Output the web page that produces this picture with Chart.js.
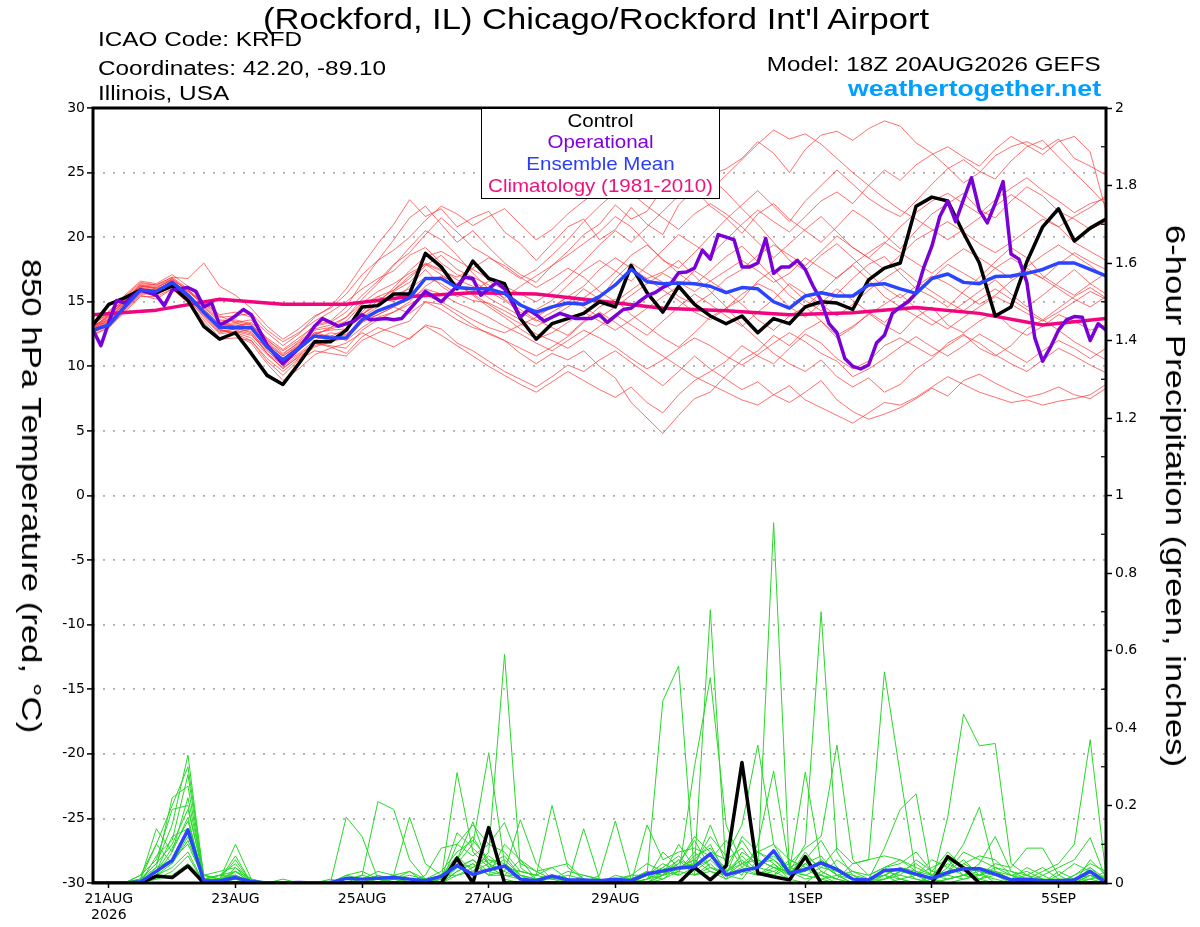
<!DOCTYPE html>
<html>
<head>
<meta charset="utf-8">
<script src="https://cdn.jsdelivr.net/npm/chart.js@4.4.1/dist/chart.umd.min.js"></script>
<style>
  html, body { margin:0; padding:0; background:#fff; overflow:hidden; }
  #wrap { position:relative; width:1200px; height:927px; background:#fff; }
  canvas { position:absolute; left:0; top:0; }
  .h { position:absolute; font-family:'Liberation Sans', Arial, sans-serif; line-height:1; white-space:nowrap; color:#000; }
  #title { left:-4px; width:1200px; text-align:center; top:4.8px; font-size:29px; transform:scaleX(1.193); transform-origin:50% 0; }
  .hl { left:98px; font-size:20px; transform:scaleX(1.216); transform-origin:0 0; }
  .hr { right:99px; transform-origin:100% 0; }
  #legend { position:absolute; left:480.5px; top:108px; width:239px; height:91px; box-sizing:border-box; border:1.5px solid #000; background:#fff; padding-top:0.5px; }
  #legend div { font-family:'Liberation Sans', Arial, sans-serif; font-size:18.5px; line-height:21.7px; text-align:center; white-space:nowrap; transform:scaleX(1.11); transform-origin:50% 0; }
  .axt { position:absolute; font-family:'Liberation Sans', Arial, sans-serif; font-size:28px; line-height:1; white-space:nowrap; color:#000; transform:translate(-50%,-50%) rotate(90deg) scaleX(1.24); }
</style>
</head>
<body>
<div id="wrap">
  <canvas id="c" width="1200" height="927"></canvas>
  <div class="h" id="title">(Rockford, IL) Chicago/Rockford Int'l Airport</div>
  <div class="h hl" style="top:29.1px">ICAO Code: KRFD</div>
  <div class="h hl" style="top:58.1px">Coordinates: 42.20, -89.10</div>
  <div class="h hl" style="top:83.1px">Illinois, USA</div>
  <div class="h hr" style="top:53.8px;font-size:20px;transform:scaleX(1.211)">Model: 18Z 20AUG2026 GEFS</div>
  <div class="h hr" style="top:78.1px;font-size:22px;font-weight:bold;color:#00a0ff;transform:scaleX(1.21)">weathertogether.net</div>
  <div id="legend">
    <div style="color:#000">Control</div>
    <div style="color:#8000e0">Operational</div>
    <div style="color:#2a3cff">Ensemble Mean</div>
    <div style="color:#f0107f">Climatology (1981-2010)</div>
  </div>
  <div class="axt" style="left:31px;top:495.5px">850 hPa Temperature (red, °C)</div>
  <div class="axt" style="left:1175px;top:495.5px">6-hour Precipitation (green, inches)</div>
</div>
<script>
// ---------- axis / tick definitions (x = 6-hour step index from 18Z 20AUG2026) ----------
const xTickIndex = [1, 9, 17, 25, 33, 45, 53, 61];
const xTickLabels = [['21AUG', '2026'], '23AUG', '25AUG', '27AUG', '29AUG', '1SEP', '3SEP', '5SEP'];
const precipMinorTicks = [0.1, 0.3, 0.5, 0.7, 0.9, 1.1, 1.3, 1.5, 1.7, 1.9];

// ---------- 850 hPa temperature (°C), 6-hourly ----------
const controlTemp = [13.2,14.8,15.3,15.9,15.7,16.2,15.1,13.1,12.1,12.6,
  11.0,9.3,8.6,10.2,11.9,11.9,12.8,14.6,14.7,15.6,
  15.6,18.75,17.7,16.0,18.15,16.8,16.4,13.7,12.1,13.3,
  13.7,14.1,15.0,14.6,17.8,15.7,14.2,16.2,14.8,13.9,
  13.3,13.9,12.6,13.7,13.3,14.6,15.0,14.9,14.4,16.7,
  17.6,18.0,22.4,23.1,22.8,20.3,18.0,13.9,14.6,18.1,
  20.8,22.2,19.7,20.7,21.4];

const meanTemp = [12.8,13.2,14.6,15.9,15.8,16.5,15.5,14.2,13.0,13.0,
  13.0,11.5,10.5,11.4,12.35,12.2,12.2,13.6,14.3,14.75,
  15.3,16.8,16.8,16.1,16.0,16.0,15.65,14.75,14.2,14.6,
  14.9,14.8,15.4,16.3,17.5,16.55,16.4,16.45,16.4,16.2,
  15.7,16.1,16.0,15.0,14.5,15.45,15.7,15.45,15.45,16.3,
  16.4,16.0,15.65,16.8,17.15,16.5,16.4,16.95,17.0,17.2,
  17.5,18.0,18.0,17.5,17.0];

// operational run, 3-hourly
const operationalTemp = [12.8,11.6,13.4,15.1,14.9,15.4,15.9,15.7,15.5,14.7,
  15.9,16.0,16.1,15.8,14.6,14.9,13.2,13.5,13.9,14.4,
  14.0,12.8,11.65,10.9,10.2,10.8,11.4,12.2,13.1,13.7,
  13.4,13.1,13.3,13.5,14.0,13.6,13.65,13.7,13.6,13.7,
  14.4,15.1,15.8,15.4,15.0,15.6,16.2,16.9,16.8,15.5,
  16.0,16.5,16.0,14.9,13.8,14.4,14.0,13.5,13.8,14.1,
  13.9,13.7,13.7,13.7,14.0,13.4,13.9,14.4,14.5,15.0,
  15.45,15.7,16.1,16.4,17.25,17.3,17.6,19.0,18.3,20.2,
  20.0,19.8,17.7,17.7,18.0,19.9,17.2,17.7,17.7,18.2,
  17.5,16.2,15.1,13.3,12.6,10.6,10.0,9.8,10.1,11.8,
  12.4,14.1,14.6,15.0,15.65,17.7,19.3,21.6,22.8,21.2,
  22.9,24.6,22.1,21.1,22.6,24.3,18.7,18.3,16.5,12.2,
  10.4,11.5,12.8,13.6,13.85,13.8,12.0,13.3,12.8];

// climatology, daily (every 4th 6-hour step)
const climatologyTemp = [14.0,14.35,15.2,14.8,14.8,15.4,15.7,15.6,15.05,14.5,14.3,14.0,14.15,14.55,14.1,13.2,13.7];

// ensemble members, 6-hourly
const memberTemps = [
  [13.0,14.0,15.2,16.3,16.0,16.8,15.9,14.8,13.6,13.5,13.2,12.0,11.2,12.0, 13.2,13.5,14.6,16.5,18.2,19.8,21.5,22.4,21.0,19.6,20.5,19.2,18.0,17.1,16.5, 17.8,18.9,20.2,21.0,22.5,21.4,22.0,23.8,24.9,25.6,24.8,25.3, 26.1,27.4,26.5,25.0,26.8,27.9,28.2,27.5,28.4,29.0,28.6,27.3, 26.5,25.4,24.2,25.0,26.3,27.0,27.4,26.8,27.6,26.1,25.5,24.8],
  [12.5,13.0,14.3,15.5,15.2,16.0,15.0,13.6,12.2,12.5,12.0,10.4,9.3,10.5, 11.2,11.0,10.8,12.0,12.6,13.1,13.5,15.0,14.8,14.0,13.2,12.5,12.0,11.0,10.2, 11.0,10.5,11.2,10.0,9.1,7.2,6.0,4.8,6.2,7.5,8.0,9.3, 10.5,11.2,12.4,11.6,12.8,13.5,12.2,13.0,14.1,13.2,12.5,13.8, 14.6,13.2,12.6,13.5,14.2,13.0,12.4,13.1,14.0,13.5,12.8,13.2],
  [13.2,13.6,14.9,16.1,15.9,16.6,15.7,14.3,13.1,12.8,12.5,11.0,9.8,10.8, 11.8,11.5,11.0,12.3,13.0,12.6,12.1,13.2,12.9,11.8,11.2,10.4,9.6,9.0,8.4, 9.2,10.1,9.6,10.5,11.2,10.3,9.4,8.5,9.6,10.8,9.8,9.0, 8.2,8.8,7.8,7.2,8.0,8.9,7.4,6.5,5.9,6.3,6.8,7.5, 8.3,7.7,8.9,9.4,8.7,8.1,7.6,7.9,8.4,7.8,7.5,8.3],
  [13.4,14.2,15.5,16.6,16.4,17.1,16.2,15.0,14.0,14.2,13.8,12.6,11.6,12.5, 13.8,14.6,16.0,17.8,19.5,21.0,22.9,21.6,22.2,20.8,21.5,22.0,20.4,19.5,18.2, 19.5,20.8,21.4,19.8,20.6,22.3,21.0,20.2,22.5,23.7,22.4,21.5, 20.3,21.8,22.6,21.4,20.5,19.6,20.8,22.1,21.3,20.2,19.1,20.5, 21.8,22.6,23.4,22.1,21.5,22.8,23.9,23.2,22.0,21.4,20.6,21.2],
  [12.9,13.4,14.8,16.0,15.6,16.3,15.2,13.8,12.5,12.7,12.4,11.2,10.2,11.0, 12.0,12.6,12.4,13.8,14.6,15.8,16.5,17.8,18.6,17.5,16.9,16.3,15.2,14.4,13.6, 13.0,12.4,13.5,14.6,15.2,14.0,13.1,12.2,11.5,12.6,13.8,14.5, 15.2,16.6,17.5,16.2,15.1,14.3,15.6,16.8,17.9,18.5,17.2,16.0, 15.4,14.6,15.8,16.9,18.1,19.2,18.4,17.0,16.2,15.5,16.4,17.2],
  [13.1,13.9,15.0,16.2,16.1,16.7,15.6,14.5,13.2,13.4,13.6,12.1,11.0,11.8, 12.6,12.3,12.9,14.2,15.4,15.0,16.2,17.5,16.2,15.4,15.8,16.6,15.9,14.8,14.0, 14.5,15.4,16.2,17.5,18.4,17.6,16.8,17.3,18.2,17.0,15.8,14.6, 13.2,12.1,11.0,10.2,9.6,10.5,9.2,8.4,9.1,8.0,8.6,9.8, 10.6,11.8,12.5,11.4,10.8,11.6,12.9,13.6,12.8,11.9,11.2,10.5],
  [12.6,13.3,14.5,15.7,15.9,16.4,15.3,14.0,12.8,12.6,12.9,11.6,10.4,11.3, 12.4,13.0,13.8,15.2,16.4,17.8,19.2,20.5,19.8,18.6,17.2,16.0,15.3,16.2,17.0, 17.8,18.6,19.5,20.4,21.6,20.8,19.5,18.2,17.6,18.8,20.1,21.4, 22.5,23.6,22.4,21.2,22.8,24.0,25.2,24.1,23.0,22.2,21.6,22.8, 24.1,25.3,26.0,25.1,24.5,25.9,27.0,27.5,26.2,25.0,23.8,22.5],
  [13.0,13.5,14.7,15.8,15.5,16.2,15.4,14.1,12.9,12.4,11.8,10.2,8.9,9.8, 10.9,11.4,11.8,12.6,12.0,11.5,12.2,13.1,12.4,11.6,10.8,10.0,9.3,8.6,8.0, 8.8,9.6,8.9,8.2,7.6,8.4,7.2,6.4,7.8,8.9,9.6,10.4, 11.6,10.8,10.2,11.4,12.5,11.8,10.6,9.8,10.4,11.6,12.2,11.5, 10.8,11.6,12.4,11.8,10.9,10.2,9.6,10.5,11.4,10.8,10.1,9.5],
  [12.7,13.1,14.4,15.6,15.6,16.2,15.8,14.9,13.8,13.9,14.1,12.8,11.9,12.6, 13.5,14.2,15.0,16.0,16.8,17.4,18.6,19.2,18.0,17.1,16.6,15.8,15.1,14.2,13.5, 14.2,14.9,16.0,15.2,16.8,18.0,17.2,16.5,15.4,14.8,15.6,16.8, 17.5,18.6,19.4,18.6,17.8,18.9,20.1,19.2,18.4,17.5,18.6,19.8, 20.5,21.2,20.4,19.5,18.8,19.6,20.5,21.4,20.8,19.6,18.9,18.2],
  [13.3,14.0,15.3,16.4,16.3,16.9,16.0,14.6,13.4,13.0,12.6,11.3,10.0,10.9, 11.8,11.6,11.4,12.8,13.6,14.2,15.0,16.2,17.0,16.4,15.5,14.6,13.8,12.9,12.1, 12.6,13.4,14.2,13.5,12.8,13.6,14.5,15.4,16.2,17.4,16.6,15.8, 14.8,13.6,12.8,13.9,14.6,13.5,12.4,13.1,14.0,14.8,15.6,14.5, 13.6,12.9,13.8,14.6,15.4,14.8,14.1,13.5,14.2,15.0,15.8,15.2],
  [12.9,13.7,15.0,16.1,15.7,16.5,15.5,14.4,13.3,13.1,13.4,12.2,11.3,12.2, 13.1,13.4,14.2,15.5,16.6,17.9,18.8,20.2,21.5,20.4,19.2,18.5,17.6,16.8,17.5, 18.6,19.8,21.2,22.4,23.5,24.6,25.4,24.2,25.0,25.8,24.6,23.5, 22.2,21.0,19.6,18.2,17.4,18.6,19.5,18.4,17.2,16.1,15.3,16.2, 17.0,16.4,15.6,14.8,15.5,16.6,17.4,16.8,16.0,15.2,14.6,15.4],
  [13.2,13.4,14.6,15.9,15.8,16.6,15.4,14.0,12.7,12.9,12.7,11.0,10.1,11.2, 12.3,12.0,12.5,13.5,14.0,14.6,15.2,16.0,15.6,14.9,14.4,13.8,13.1,12.5,11.8, 11.2,12.0,12.8,12.2,11.5,10.6,9.8,10.5,11.4,12.2,11.6,10.8, 10.1,10.9,11.8,12.6,11.9,11.0,10.4,9.2,9.8,10.6,11.5,12.3, 11.5,10.8,11.6,12.5,11.8,11.0,10.3,11.2,12.0,11.4,10.6,11.4],
  [12.8,13.6,14.9,16.0,15.9,16.6,15.6,14.2,13.1,13.3,13.2,11.8,10.8,11.6, 12.5,12.9,13.2,14.0,15.1,15.9,16.8,18.0,17.5,16.7,16.2,15.3,14.6,13.9,14.4, 15.1,16.3,17.4,18.2,17.4,16.6,17.8,19.0,20.2,19.4,18.6,19.8, 21.0,22.1,21.2,20.4,21.6,22.8,23.5,22.6,24.0,25.2,24.4,25.6, 26.4,27.0,26.2,25.5,26.8,27.8,27.1,26.4,27.4,27.8,26.6,22.0],
  [13.0,13.8,15.1,16.3,16.2,16.8,15.8,14.7,13.5,13.6,13.3,11.9,10.9,11.9, 12.9,13.2,13.8,14.9,15.8,16.4,17.2,17.9,17.4,16.9,17.6,18.4,17.8,16.9,16.1, 16.8,17.6,16.9,15.8,15.0,15.9,16.8,15.9,15.1,14.2,13.6,14.5, 15.6,16.4,15.8,14.6,13.8,14.9,16.0,15.1,14.2,13.4,14.6,15.8, 16.8,17.9,17.2,16.5,17.6,18.4,17.6,16.8,17.9,18.8,18.1,17.5],
  [12.4,13.0,14.2,15.4,15.4,16.0,14.9,13.4,12.1,12.2,12.0,10.6,9.6,10.6, 11.5,11.9,12.2,13.4,14.0,14.6,14.1,15.0,14.4,13.6,13.0,12.6,12.0,11.4,10.8, 11.5,12.3,13.4,14.2,13.4,12.5,11.6,10.8,10.0,9.2,8.6,8.0, 7.4,7.0,7.8,8.5,7.4,6.8,6.2,5.6,6.4,7.2,7.0,7.6, 8.4,9.2,8.6,8.0,7.6,7.2,7.4,7.0,7.3,7.5,7.8,8.6],
  [13.1,14.3,15.4,16.5,16.3,16.9,16.8,18.0,16.2,15.5,14.5,13.1,12.1,12.9, 13.9,14.5,15.6,17.1,18.2,19.0,20.0,21.3,22.4,21.8,20.9,21.6,22.2,21.0,19.8, 20.6,21.8,22.8,23.6,24.4,23.4,22.4,21.5,20.6,21.8,22.6,21.8, 20.8,19.6,18.4,19.5,20.6,21.6,20.4,19.2,18.4,19.5,20.8,21.9, 22.8,23.4,22.6,21.8,22.9,23.8,24.6,23.6,22.8,21.9,22.6,23.0],
  [12.6,13.2,14.4,15.6,15.7,16.3,15.2,13.9,12.6,12.9,12.9,11.4,10.6,11.6, 12.6,12.8,12.9,14.0,14.8,15.5,16.0,16.9,16.4,15.6,15.1,14.9,14.3,13.6,13.1, 13.8,14.6,15.3,16.2,17.3,18.6,19.4,18.3,17.2,16.3,17.4,18.5, 19.3,18.1,16.8,15.5,14.6,15.7,16.9,17.8,16.7,15.4,14.6,13.9, 13.2,14.0,14.9,15.8,16.7,15.6,14.6,15.5,16.5,17.5,16.4,15.6],
  [13.3,14.1,15.2,16.2,16.0,16.4,15.3,14.1,12.8,12.6,12.2,10.9,9.9,10.7, 11.6,12.1,12.8,14.0,14.9,16.1,17.4,18.5,18.9,18.2,17.5,16.8,16.2,15.6,15.0, 15.8,16.9,18.1,19.4,20.5,19.6,20.8,22.0,23.2,24.5,23.6,24.8, 26.0,27.2,28.3,27.6,28.0,27.2,26.1,25.0,24.0,23.0,22.1,21.4, 20.6,19.8,20.6,21.5,22.4,23.3,22.5,21.6,20.8,21.6,22.3,23.2],
  [12.7,13.4,14.8,16.0,15.8,16.5,15.6,14.3,13.0,13.2,13.0,11.5,10.6,11.5, 12.4,12.4,12.0,13.0,13.8,14.2,14.8,15.5,15.0,14.3,13.6,13.0,12.6,13.2,13.8, 14.6,15.4,14.6,13.8,14.6,15.5,16.4,17.2,16.5,15.8,16.6,17.4, 18.2,17.4,16.5,17.2,18.4,17.6,16.8,17.9,18.8,19.6,18.8,18.0, 17.2,18.2,19.1,18.4,17.6,16.8,17.7,18.6,19.4,18.6,17.8,16.9],
  [13.0,13.9,15.1,16.2,16.1,16.7,15.9,15.0,13.9,13.4,12.9,11.7,10.8,11.7, 12.8,13.0,13.5,14.8,15.4,15.9,17.0,17.9,17.1,16.3,15.6,14.8,14.0,13.3,12.5, 12.0,11.4,12.2,13.1,14.0,13.2,12.4,13.5,14.6,15.6,14.8,13.9, 13.1,14.2,15.2,16.4,15.6,14.8,13.9,14.8,15.9,16.8,17.6,16.6, 15.8,15.0,14.3,15.2,16.0,15.2,14.4,13.6,14.5,15.4,16.1,15.3]
];

// ---------- 6-hour precipitation (inches) ----------
const controlPrecip = [0,0,0,0,0.018,0.014,0.044,0,0,0, 0,0,0,0,0,0,0,0,0,0, 0,0,0,0.064,0,0.143,0,0,0,0,
  0,0,0,0,0,0,0,0,0.04,0.008, 0.044,0.311,0.025,0.016,0.008,0.068,0,0,0,0, 0,0,0,0,0.068,0.039,0,0,0,0, 0,0,0,0,0];

const meanPrecip = [0,0,0,0.003,0.03,0.058,0.137,0.006,0.005,0.014, 0.004,0,0,0.001,0,0.001,0.012,0.01,0.012,0.014,
  0.01,0.006,0.017,0.045,0.022,0.034,0.044,0.01,0.006,0.018, 0.008,0.008,0.006,0.01,0.006,0.023,0.031,0.039,0.042,0.075,
  0.021,0.032,0.04,0.083,0.025,0.035,0.052,0.035,0.01,0.008, 0.032,0.035,0.023,0.012,0.027,0.037,0.037,0.023,0.008,0.01,
  0.006,0.006,0.008,0.03,0.001];

const memberPrecip = [
  [0,0,0,0.01,0.05,0.15,0.33,0.01,0.02,0.05,0,0,0, 0,0,0,0.01,0.02,0.21,0.19,0.06,0.01,0.02,0.07,0.03,0.08, 0.59,0.04,0.01,0,0,0.01,0,0,0.01,0.03,0.02,0.06,0.02, 0.05,0.01,0.03,0.04,0.93,0.03,0.01,0.02,0,0,0.01,0.02,0, 0,0.01,0.02,0.05,0.03,0,0,0.01,0.03,0.05,0.1,0.37,0.02],
  [0,0,0,0.02,0.1,0.2,0.30,0.02,0.01,0.1,0.01,0,0, 0,0,0.01,0,0,0.02,0.01,0,0,0.01,0.285,0.08,0.04, 0.02,0.01,0,0,0,0,0,0,0,0.02,0.05,0.03,0.08, 0.04,0.02,0.01,0.06,0.04,0.03,0.1,0.70,0.08,0.02,0,0.01,0.03, 0.02,0,0.17,0.436,0.354,0.36,0.05,0.02,0,0,0.01,0.03,0],
  [0,0,0,0,0.07,0.11,0.28,0.01,0.01,0.07,0,0,0, 0,0,0,0.17,0.12,0.01,0,0,0,0,0.05,0.1,0.336, 0.05,0.02,0.01,0,0.01,0,0,0,0,0,0.03,0.02,0.04, 0.705,0.03,0.06,0.02,0.05,0.01,0,0.03,0.01,0.05,0.06,0.545,0.28, 0.02,0,0.01,0.02,0.01,0,0,0,0.01,0,0,0.02,0],
  [0,0,0,0.01,0.04,0.22,0.25,0.01,0,0.04,0,0,0.01, 0,0,0,0.02,0.01,0,0.01,0.02,0.01,0,0.04,0.06,0.02, 0.03,0.163,0.05,0.01,0,0,0,0,0.02,0.02,0.47,0.56,0.02, 0.03,0.01,0.08,0.05,0.06,0.02,0.08,0.03,0.01,0,0,0.04,0.06, 0.03,0.01,0.04,0.1,0.196,0.03,0.01,0,0,0.01,0,0.02,0.01],
  [0,0,0,0,0.02,0.08,0.22,0.02,0.01,0.03,0.01,0,0, 0,0,0,0,0.01,0.01,0.02,0.17,0.05,0.02,0.02,0.04,0.07, 0.04,0.03,0.02,0.2,0.04,0.01,0,0,0,0.01,0.04,0.02,0.30, 0.53,0.15,0.05,0.08,0.1,0.06,0.04,0.01,0,0,0.01,0.09,0.19, 0.23,0.01,0,0.01,0.02,0.03,0.01,0.04,0.02,0,0,0.01,0.03],
  [0,0,0,0.02,0.06,0.19,0.20,0.01,0.02,0.03,0,0,0, 0,0,0,0,0,0.01,0,0,0,0,0.03,0.05,0.02, 0.1,0.06,0.01,0.02,0,0.14,0.01,0,0,0.01,0.08,0.04,0.05, 0.12,0.07,0.15,0.356,0.1,0.03,0.05,0.07,0.02,0.01,0,0.02,0.04, 0.01,0,0.03,0.06,0.02,0.05,0.04,0.09,0.09,0.02,0,0.04,0],
  [0,0,0,0.01,0.14,0.08,0.17,0,0.01,0.02,0,0,0, 0,0,0,0,0.02,0.01,0,0,0.01,0.01,0.06,0.12,0.05, 0.07,0.02,0,0,0,0,0.02,0.16,0.01,0,0.02,0.1,0.04, 0.15,0.05,0.02,0.1,0.289,0.04,0.06,0.11,0.04,0.01,0,0.03,0.02, 0.06,0.03,0.08,0.04,0.01,0.02,0,0,0.02,0.04,0.06,0.117,0.01],
  [0,0,0,0,0.03,0.12,0.14,0.01,0,0.02,0,0,0, 0,0,0,0,0,0,0,0,0.02,0.09,0.1,0.07,0.1, 0.08,0.03,0.02,0.04,0.05,0.01,0,0,0,0.15,0.06,0.08,0.09, 0.07,0.04,0.11,0.05,0.07,0.03,0.286,0.05,0.02,0,0,0.01,0.03, 0.02,0.06,0.04,0.02,0.05,0.12,0.03,0.01,0,0,0.02,0.05,0.03],
  [0,0,0,0.01,0.10,0.05,0.12,0.02,0.03,0.04,0.01,0,0, 0,0,0,0,0,0,0.01,0.03,0,0.01,0.13,0.09,0.05, 0.03,0.01,0,0,0,0,0,0,0.01,0.03,0.02,0.05,0.12, 0.08,0.06,0.09,0.04,0.03,0.05,0.09,0.12,0.356,0.06,0.02,0.04,0.01, 0,0.02,0.05,0.03,0.02,0.01,0,0,0.01,0,0.02,0.04,0.01],
  [0,0,0,0,0.04,0.06,0.10,0.01,0.02,0.01,0,0,0, 0,0,0,0,0.01,0.03,0.02,0.01,0.01,0,0.1,0.15,0.1, 0.156,0.05,0.03,0.04,0.01,0,0,0,0,0,0.01,0.04,0.06, 0.1,0.02,0.12,0.08,0.05,0.02,0.07,0.04,0.09,0.05,0.06,0.07,0.06, 0.04,0.02,0.01,0.02,0.04,0.03,0.01,0.02,0.04,0.01,0,0.01,0.02],
  [0,0,0,0,0.02,0.04,0.08,0,0.01,0.01,0,0,0, 0,0,0,0,0,0,0,0.01,0,0.02,0.06,0.158,0.04, 0.06,0.02,0.01,0,0,0,0,0.01,0.02,0.05,0.03,0.06,0.04, 0.06,0.11,0.04,0.02,0.03,0.01,0.05,0.02,0.06,0.03,0.02,0.04,0.05, 0.08,0.03,0.02,0.05,0.07,0.06,0.02,0,0,0.03,0.01,0.02,0],
  [0,0,0,0.01,0.01,0.02,0.05,0.01,0.02,0.02,0,0,0, 0,0,0,0,0,0,0,0,0,0.01,0.04,0.06,0.03, 0.02,0.06,0.03,0.01,0.02,0.01,0,0,0.01,0.02,0.01,0.03,0.07, 0.09,0.03,0.05,0.06,0.04,0.02,0.03,0.05,0.02,0.03,0.01,0.01,0.03, 0.05,0.02,0.06,0.04,0.03,0.02,0.01,0.01,0,0.02,0.05,0.03,0.01],
  [0,0,0,0,0.03,0.09,0.16,0.01,0,0.01,0,0,0, 0,0,0,0,0,0.02,0,0,0.01,0.03,0.08,0.11,0.06, 0.04,0.03,0.02,0.01,0.01,0,0,0.02,0.01,0.02,0.04,0.07,0.03, 0.06,0.02,0.04,0.08,0.06,0.03,0.02,0.04,0.03,0.02,0.01,0.02,0.04, 0.03,0.02,0.03,0.08,0.06,0.04,0.03,0.02,0.01,0.01,0,0.06,0.02],
  [0,0,0,0.01,0.05,0.1,0.19,0.02,0.01,0.06,0,0,0, 0,0,0,0,0.01,0,0.02,0.03,0.01,0,0.05,0.04,0.06, 0.05,0.01,0,0,0,0.02,0.01,0,0,0.01,0.03,0.05,0.11, 0.04,0.03,0.07,0.03,0.02,0.06,0.04,0.02,0.01,0,0.01,0.02,0.01, 0,0.01,0.02,0.01,0.02,0.04,0.02,0.01,0,0,0.01,0.03,0.01],
  [0,0,0,0,0.01,0.03,0.07,0,0,0.03,0,0,0, 0,0,0,0.02,0.03,0.01,0.01,0,0,0,0.03,0.05,0.02, 0.02,0.02,0.01,0.01,0.03,0.02,0.01,0,0,0.01,0.02,0.04,0.06, 0.03,0.02,0.05,0.03,0.02,0.04,0.03,0.06,0.03,0.01,0,0,0.01, 0.02,0.04,0.06,0.02,0.01,0.03,0.02,0.03,0.01,0,0,0.02,0],
  [0,0,0,0,0.02,0.05,0.11,0.01,0.01,0.02,0,0,0, 0,0,0,0,0,0,0,0,0,0,0.02,0.03,0.05, 0.01,0,0,0,0,0,0,0,0,0,0.02,0.03,0.02, 0.04,0.02,0.03,0.02,0.04,0.03,0.02,0.01,0.02,0,0,0.01,0.02, 0.01,0,0.01,0.02,0.03,0.02,0.01,0,0,0.01,0.01,0.01,0]
];

// ---------- build datasets ----------
const toPoints = (arr, step) => arr.map((v, i) => ({ x: i * step, y: v }));
const datasets = [];
datasets.push({ data: toPoints(meanTemp, 1), yAxisID: 'yT', borderColor: '#2a44ff', borderWidth: 3.5, order: 0 });
datasets.push({ data: toPoints(operationalTemp, 0.5), yAxisID: 'yT', borderColor: '#7a00d8', borderWidth: 3.5, order: 1 });
datasets.push({ data: toPoints(controlTemp, 1), yAxisID: 'yT', borderColor: '#000000', borderWidth: 3.5, order: 2 });
datasets.push({ data: toPoints(climatologyTemp, 4), yAxisID: 'yT', borderColor: '#f0057f', borderWidth: 3.5, order: 3 });
datasets.push({ data: toPoints(meanPrecip, 1), yAxisID: 'yP', borderColor: '#2a44ff', borderWidth: 3.5, order: 4 });
datasets.push({ data: toPoints(controlPrecip, 1), yAxisID: 'yP', borderColor: '#000000', borderWidth: 3.5, order: 5 });
memberPrecip.forEach(m => datasets.push({ data: toPoints(m, 1), yAxisID: 'yP', borderColor: 'rgb(40,215,40)', borderWidth: 1, order: 10 }));
memberTemps.forEach(m => datasets.push({ data: toPoints(m, 1), yAxisID: 'yT', borderColor: 'rgba(255,50,50,0.7)', borderWidth: 1, order: 11 }));

const framePlugin = {
  id: 'frame',
  afterDatasetsDraw(chart) {
    const { ctx, chartArea: { left, top, right, bottom }, scales: { yP } } = chart;
    ctx.save();
    ctx.strokeStyle = '#000';
    ctx.lineWidth = 1.2;
    precipMinorTicks.forEach(v => {
      const py = yP.getPixelForValue(v);
      ctx.beginPath(); ctx.moveTo(right, py); ctx.lineTo(right - 5, py); ctx.stroke();
    });
    ctx.lineWidth = 3;
    ctx.strokeRect(left, top, right - left, bottom - top);
    ctx.restore();
  }
};

Chart.defaults.font.family = "'DejaVu Sans', sans-serif";
Chart.defaults.color = '#000';

new Chart(document.getElementById('c'), {
  type: 'line',
  data: { datasets },
  options: {
    responsive: false,
    animation: false,
    events: [],
    layout: { padding: { top: 108, left: 0, right: 0, bottom: 0 } },
    plugins: { legend: { display: false }, tooltip: { enabled: false }, title: { display: false } },
    elements: { point: { radius: 0 }, line: { tension: 0, borderJoinStyle: 'round', borderCapStyle: 'round' } },
    scales: {
      x: {
        type: 'linear', min: 0, max: 64,
        grid: { display: true, drawOnChartArea: false, drawTicks: true, tickLength: 5, tickColor: '#000', tickWidth: 1.5 },
        border: { display: false },
        afterBuildTicks: s => { s.ticks = xTickIndex.map(v => ({ value: v })); },
        afterFit: s => { s.height = 44; },
        ticks: {
          autoSkip: false, maxRotation: 0, minRotation: 0, padding: 3, color: '#000',
          font: { family: "'DejaVu Sans', sans-serif", size: 14, lineHeight: 1.15 },
          callback: (v, i) => xTickLabels[i]
        }
      },
      yT: {
        type: 'linear', position: 'left', min: -30, max: 30,
        ticks: { stepSize: 5, padding: 2, color: '#000', font: { family: "'DejaVu Sans', sans-serif", size: 14 } },
        grid: { color: '#ababab', lineWidth: 1.8, tickColor: '#000', tickLength: 6, tickWidth: 1.5, tickBorderDash: [] },
        border: { display: false, dash: [2, 8] },
        afterFit: s => { s.width = 93; }
      },
      yP: {
        type: 'linear', position: 'right', min: 0, max: 2,
        ticks: { stepSize: 0.2, padding: 3, color: '#000', font: { family: "'DejaVu Sans', sans-serif", size: 14 },
                 callback: v => String(Math.round(v * 10) / 10) },
        grid: { drawOnChartArea: false, tickColor: '#000', tickLength: 6, tickWidth: 1.5 },
        border: { display: false },
        afterFit: s => { s.width = 94; }
      }
    }
  },
  plugins: [framePlugin]
});
</script>
</body>
</html>
